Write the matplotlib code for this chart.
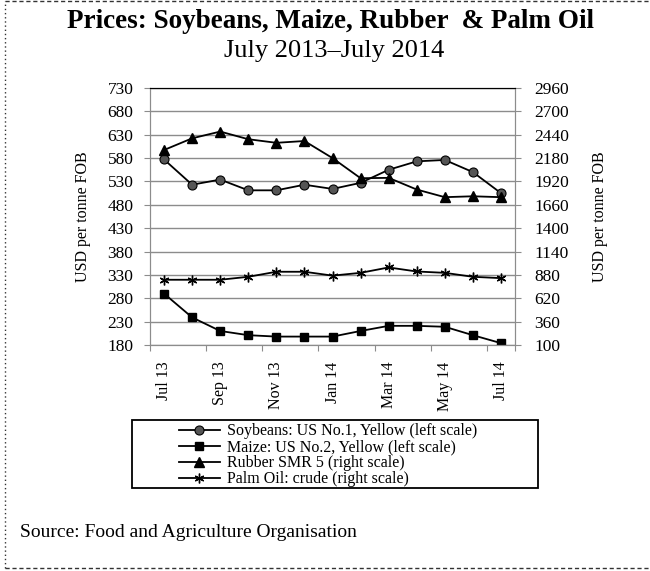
import numpy as np
import matplotlib.pyplot as plt
from matplotlib.lines import Line2D
from matplotlib.patches import Rectangle

plt.rcParams['font.family'] = ['Liberation Serif', 'DejaVu Serif']

months = ['Jul 13', 'Aug 13', 'Sep 13', 'Oct 13', 'Nov 13', 'Dec 13', 'Jan 14',
          'Feb 14', 'Mar 14', 'Apr 14', 'May 14', 'Jun 14', 'Jul 14']
# left scale (USD/t)
soybeans = [577, 523, 534, 511, 511, 523, 514, 527, 555, 573, 576, 550, 505]
maize = [290, 239, 210, 201, 198, 198, 198, 210, 221, 221, 219, 201, 184]
# right scale (USD/t)
rubber = [2270, 2400, 2475, 2390, 2350, 2370, 2180, 1956, 1960, 1830, 1745, 1755, 1745]
palm_oil = [826, 826, 826, 859, 915, 915, 872, 903, 963, 918, 903, 859, 844]

left_ticks = list(range(180, 731, 50))
right_ticks = list(range(100, 2961, 260))

fig = plt.figure(figsize=(6.5, 5.71), dpi=100)
ax = fig.add_axes([0.2308, 0.3958, 0.5615, 0.4501])
ax2 = ax.twinx()

x = np.arange(len(months))
grey = '#8c8c8c'

h1, = ax.plot(x, soybeans, color='black', lw=1.3, marker='o', ms=6.5,
              mfc='#555555', mec='black', mew=0.8,
              label='Soybeans: US No.1, Yellow (left scale)')
h2, = ax.plot(x, maize, color='black', lw=1.3, marker='s', ms=6,
              mfc='black', mec='black',
              label='Maize: US No.2, Yellow (left scale)')
h3, = ax2.plot(x, rubber, color='black', lw=1.3, marker='^', ms=6.5,
               mfc='black', mec='black', label='Rubber SMR 5 (right scale)')
h4, = ax2.plot(x, palm_oil, color='black', lw=1.3, marker=(6, 2, 0), ms=7,
               mec='black', mew=1.0, label='Palm Oil: crude (right scale)')

ax.set_xlim(-0.5, len(months) - 0.5)
ax.set_ylim(180, 730)
ax2.set_ylim(100, 2960)
ax.set_yticks(left_ticks)
ax2.set_yticks(right_ticks)
ax.yaxis.grid(True, color=grey, lw=1.0)
ax.set_axisbelow(True)

# category ticks at boundaries, labels every two months
ax.set_xticks(np.arange(-0.5, len(months), 2).tolist() + [len(months) - 0.5])
ax.set_xticklabels([])
ax.set_xticks(x[::2], minor=True)
ax.set_xticklabels(months[::2], minor=True, rotation=90, fontsize=11.5)
ax.tick_params(axis='x', which='major', length=4, color=grey, direction='out')
ax.tick_params(axis='x', which='minor', length=0, pad=12)
ax.tick_params(axis='y', length=4, color=grey, labelsize=12.5, pad=8)
ax2.tick_params(axis='y', length=4, color=grey, labelsize=12.5, pad=10)

for a in (ax, ax2):
    for s in ('left', 'right', 'bottom'):
        a.spines[s].set_color(grey)
    a.spines['top'].set_color('black')

ax.set_ylabel('USD per tonne FOB', fontsize=11.5, labelpad=12)
ax2.set_ylabel('USD per tonne FOB', fontsize=11.5, labelpad=16, rotation=90)

fig.text(0.508, 0.962, 'Prices: Soybeans, Maize, Rubber  & Palm Oil',
         ha='center', va='center', fontsize=19.5, fontweight='bold')
fig.text(0.514, 0.911, 'July 2013\u2013July 2014', ha='center', va='center',
         fontsize=19)

leg = fig.legend(handles=[h1, h2, h3, h4], loc='upper left',
                 bbox_to_anchor=(0.2754, 0.259), fontsize=11.5, frameon=False,
                 handlelength=2.55, labelspacing=0.0, borderpad=0,
                 borderaxespad=0, handletextpad=0.45)
fig.add_artist(Rectangle((0.2031, 0.1454), 0.6246, 0.1191, fill=False,
                         edgecolor='black', lw=1.3, transform=fig.transFigure))

fig.text(0.031, 0.068, 'Source: Food and Agriculture Organisation',
         ha='left', va='center', fontsize=14)

# page border
fig.add_artist(Line2D([0.008, 0.008], [0.005, 0.998], color='#333333',
                      lw=1.0, ls=(0, (1, 2)), transform=fig.transFigure))
fig.add_artist(Line2D([0.008, 1.0], [0.005, 0.005], color='#333333',
                      lw=1.0, ls=(0, (3, 2)), transform=fig.transFigure))
fig.add_artist(Line2D([0.008, 1.0], [0.998, 0.998], color='#333333',
                      lw=1.0, ls=(0, (3, 2)), transform=fig.transFigure))

fig.savefig('out.png', dpi=100)
